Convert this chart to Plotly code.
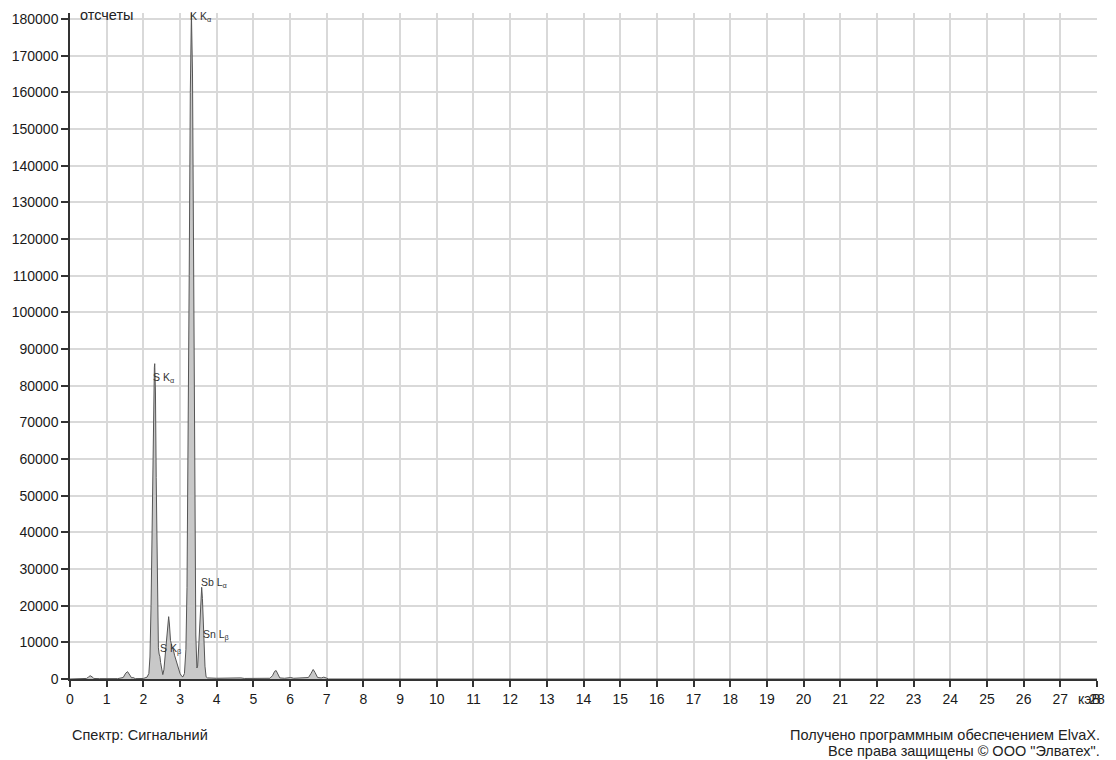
import plotly.graph_objects as go

# Spectrum: energy (keV) and counts
energy_kev = [0.0, 0.3, 0.45, 0.5, 0.55, 0.6, 0.65, 0.8, 1.3, 1.45, 1.52, 1.57, 1.62, 1.68, 1.72, 1.78,
              2.0, 2.1, 2.15, 2.18, 2.21, 2.24, 2.27, 2.30, 2.31, 2.33, 2.35, 2.37, 2.39, 2.41, 2.43,
              2.45, 2.47, 2.50, 2.53, 2.56, 2.60, 2.64, 2.67, 2.69, 2.71, 2.74, 2.78, 2.81, 2.85, 2.89,
              2.92, 2.96, 3.00, 3.05, 3.08, 3.12, 3.16, 3.19, 3.22, 3.25, 3.28, 3.31, 3.34, 3.37, 3.40,
              3.43, 3.46, 3.48, 3.51, 3.54, 3.57, 3.59, 3.61, 3.64, 3.66, 3.68, 3.71, 3.75, 4.0, 4.5,
              4.6, 4.66, 4.75, 5.45, 5.52, 5.58, 5.62, 5.67, 5.72, 5.85, 5.95, 6.02, 6.1, 6.3, 6.4,
              6.5, 6.57, 6.63, 6.68, 6.75, 6.85, 6.92, 6.98, 7.05, 10.0, 28.0]
counts = [0, 100, 150, 500, 900, 600, 150, 100, 100, 400, 1600, 2000, 1300, 300, 400, 100,
          150, 500, 1500, 6000, 20000, 45000, 72000, 85000, 86000, 78000, 55000, 32000, 16000, 8500, 6800,
          6200, 4500, 2000, 1200, 2500, 7000, 13000, 16500, 17000, 15000, 10500, 8800, 8300, 6500, 5000,
          4300, 2800, 1500, 700, 600, 1500, 8000, 25000, 60000, 110000, 160000, 181600, 165000, 110000, 50000,
          12000, 3000, 3500, 9000, 17000, 23000, 25000, 22000, 14000, 8000, 3500, 600, 300, 200, 200,
          400, 300, 150, 200, 900, 2100, 2300, 1200, 300, 200, 400, 400, 200, 300, 200,
          400, 1500, 2600, 1800, 400, 300, 500, 300, 0, 0, 0]

# Peak labels
label_texts = ["K K<sub>α</sub>", "S K<sub>α</sub>", "S K<sub>β</sub>", "Sb L<sub>α</sub>", "Sn L<sub>β</sub>"]
label_x = [3.31, 2.28, 2.47, 3.61, 3.64]
label_y = [180600, 82100, 8160, 26100, 11960]

x_ticks = list(range(0, 29))
y_ticks = list(range(0, 180001, 10000))

fig = go.Figure()
fig.add_trace(go.Scatter(
    x=energy_kev, y=counts, mode="lines",
    line=dict(color="#555555", width=1),
    fill="tozeroy", fillcolor="#c8c8c8",
    hoverinfo="skip", showlegend=False,
))

font = "Liberation Sans, Arial, sans-serif"

for t, x, y in zip(label_texts, label_x, label_y):
    fig.add_annotation(x=x, y=y, text=t, showarrow=False, xanchor="left", yanchor="middle",
                       font=dict(family=font, size=10.5, color="#333333"), xshift=-3)

fig.add_annotation(x=0.22, y=181090, text="отсчеты", showarrow=False, xanchor="left", yanchor="middle",
                   font=dict(family=font, size=14.5, color="#222222"))
fig.add_annotation(x=28, y=0, text="кэВ", showarrow=False, xanchor="right", yanchor="top",
                   yshift=-10, xshift=6,
                   font=dict(family=font, size=14, color="#222222"))

fig.add_annotation(xref="paper", yref="paper", x=0.0, y=-0.0838, text="Спектр: Сигнальний",
                   showarrow=False, xanchor="left", yanchor="middle",
                   font=dict(family=font, size=14.5, color="#222222"))
fig.add_annotation(xref="paper", yref="paper", x=1.0, y=-0.0838,
                   text="Получено программным обеспечением ElvaX.",
                   showarrow=False, xanchor="right", yanchor="middle", xshift=5,
                   font=dict(family=font, size=14.5, color="#222222"))
fig.add_annotation(xref="paper", yref="paper", x=1.0, y=-0.1078,
                   text="Все права защищены © ООО \"Элватех\".",
                   showarrow=False, xanchor="right", yanchor="middle", xshift=5,
                   font=dict(family=font, size=14.5, color="#222222"))

fig.update_xaxes(range=[0, 28], tickmode="array", tickvals=x_ticks, ticktext=[str(v) for v in x_ticks],
                 showgrid=True, gridcolor="#d9d9d9", gridwidth=1.5,
                 showline=True, linecolor="#333333", linewidth=1.5,
                 ticks="outside", ticklen=6, tickcolor="#333333", tickwidth=1.5,
                 tickfont=dict(family=font, size=14, color="#1a1a1a"), zeroline=False)
fig.update_yaxes(range=[0, 181630], tickmode="array", tickvals=y_ticks, ticktext=[str(v) for v in y_ticks],
                 showgrid=True, gridcolor="#d9d9d9", gridwidth=1.5,
                 showline=True, linecolor="#333333", linewidth=1.5,
                 ticks="outside", ticklen=7, tickcolor="#333333", tickwidth=1.5,
                 tickfont=dict(family=font, size=14, color="#1a1a1a"), zeroline=False)

fig.update_layout(width=1116, height=760, margin=dict(l=70, r=15, t=11, b=81),
                  plot_bgcolor="white", paper_bgcolor="white", showlegend=False)

fig.write_html("out.html", config={"displayModeBar": False},
               post_script="document.body.style.margin='0';")
